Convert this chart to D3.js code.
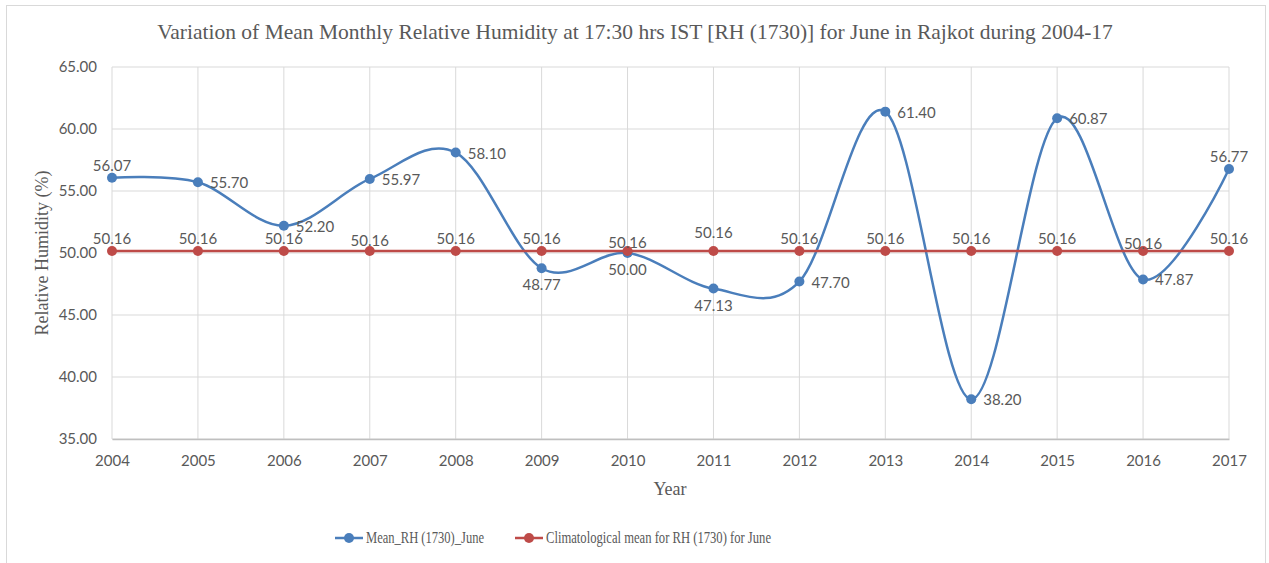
<!DOCTYPE html>
<html>
<head>
<meta charset="utf-8">
<script src="https://cdn.jsdelivr.net/npm/d3@7"></script>
<style>
  body { margin: 0; background: #fff; }
</style>
</head>
<body>
<script>
// values
const years = [2004, 2005, 2006, 2007, 2008, 2009, 2010, 2011, 2012, 2013, 2014, 2015, 2016, 2017];
const meanRH = [56.07, 55.70, 52.20, 55.97, 58.10, 48.77, 50.00, 47.13, 47.70, 61.40, 38.20, 60.87, 47.87, 56.77];
const climMean = [50.16, 50.16, 50.16, 50.16, 50.16, 50.16, 50.16, 50.16, 50.16, 50.16, 50.16, 50.16, 50.16, 50.16];
const yTicks = [35, 40, 45, 50, 55, 60, 65];
const seriesNames = ["Mean_RH (1730)_June", "Climatological mean for RH (1730) for June"];

// where each blue label sits relative to its point
const blueLabelPos = ["above", "right", "right", "right", "right", "below", "below", "below", "right", "right", "right", "right", "right", "above"];

const W = 1269, H = 563;
const margin = { left: 112, right: 40, top: 67, bottom: 124 };

const svg = d3.select("body").append("svg")
  .attr("width", W)
  .attr("height", H);

// chart border
svg.append("rect")
  .attr("x", 6.5).attr("y", 5.5)
  .attr("width", 1259).attr("height", 570)
  .attr("fill", "#fff")
  .attr("stroke", "#d9d9d9");

const x = d3.scalePoint()
  .domain(years)
  .range([margin.left, W - margin.right]);

const y = d3.scaleLinear()
  .domain([35, 65])
  .range([H - margin.bottom, margin.top]);

const grey = "#595959";
const tickFont = "Lato, 'Open Sans', sans-serif";
const serif = "'Liberation Serif', 'DejaVu Serif', serif";

// horizontal grid
svg.append("g")
  .selectAll("line")
  .data(yTicks)
  .join("line")
  .attr("x1", margin.left).attr("x2", W - margin.right)
  .attr("y1", d => y(d)).attr("y2", d => y(d))
  .attr("stroke", "#d9d9d9").attr("stroke-width", 1);

// vertical grid
svg.append("g")
  .selectAll("line")
  .data(years)
  .join("line")
  .attr("x1", d => x(d)).attr("x2", d => x(d))
  .attr("y1", y(65)).attr("y2", y(35))
  .attr("stroke", "#d9d9d9").attr("stroke-width", 1);

// bottom axis
const xAxis = svg.append("g")
  .attr("transform", `translate(0,${y(35)})`)
  .call(d3.axisBottom(x).tickSize(0).tickPadding(16));
xAxis.select(".domain").attr("stroke", "#bfbfbf").attr("stroke-width", 1.5);
xAxis.selectAll("text")
  .attr("font-family", tickFont).attr("font-size", 15).attr("fill", grey);

// left axis
const yAxis = svg.append("g")
  .attr("transform", `translate(${margin.left},0)`)
  .call(d3.axisLeft(y).tickValues(yTicks).tickSize(0).tickPadding(15).tickFormat(d3.format(".2f")));
yAxis.select(".domain").remove();
yAxis.selectAll("text")
  .attr("font-family", tickFont).attr("font-size", 15).attr("fill", grey);

const line = d3.line()
  .x((d, i) => x(years[i]))
  .y(d => y(d))
  .curve(d3.curveCardinal.tension(0));

const blue = "#4a7ebb", red = "#be4b48";

// blue series
svg.append("path")
  .datum(meanRH)
  .attr("d", line)
  .attr("fill", "none")
  .attr("stroke", blue).attr("stroke-width", 2.5);
svg.append("g")
  .selectAll("circle")
  .data(meanRH)
  .join("circle")
  .attr("cx", (d, i) => x(years[i]))
  .attr("cy", d => y(d))
  .attr("r", 5)
  .attr("fill", blue);

// red series
svg.append("path")
  .datum(climMean)
  .attr("d", d3.line().x((d, i) => x(years[i])).y(d => y(d)))
  .attr("fill", "none")
  .attr("stroke", red).attr("stroke-width", 2.5);
svg.append("g")
  .selectAll("circle")
  .data(climMean)
  .join("circle")
  .attr("cx", (d, i) => x(years[i]))
  .attr("cy", d => y(d))
  .attr("r", 5)
  .attr("fill", red);

// red labels (above)
const redShift = [0, 0, 0, 2, 0, 0, 4, -6, 0, 0, 0, 0, 5, 0];
svg.append("g")
  .selectAll("text")
  .data(climMean)
  .join("text")
  .attr("x", (d, i) => x(years[i]))
  .attr("y", (d, i) => y(d) - 7 + redShift[i])
  .attr("text-anchor", "middle")
  .attr("font-family", tickFont).attr("font-size", 15).attr("fill", grey)
  .text(d => d.toFixed(2));

// blue labels
svg.append("g")
  .selectAll("text")
  .data(meanRH)
  .join("text")
  .attr("x", (d, i) => {
    const p = blueLabelPos[i];
    return p === "right" ? x(years[i]) + 12 : x(years[i]);
  })
  .attr("y", (d, i) => {
    const p = blueLabelPos[i];
    if (p === "above") return y(d) - 7;
    if (p === "below") return y(d) + 22;
    return y(d) + 6;
  })
  .attr("text-anchor", (d, i) => blueLabelPos[i] === "right" ? "start" : "middle")
  .attr("font-family", tickFont).attr("font-size", 15).attr("fill", grey)
  .text(d => d.toFixed(2));

// title
svg.append("text")
  .attr("x", 635).attr("y", 39)
  .attr("text-anchor", "middle")
  .attr("font-family", serif).attr("font-size", 21.5).attr("fill", grey)
  .text("Variation of Mean Monthly Relative Humidity at 17:30 hrs IST [RH (1730)] for June in Rajkot during 2004-17");

// axis titles
svg.append("text")
  .attr("x", 670).attr("y", 495)
  .attr("text-anchor", "middle")
  .attr("font-family", serif).attr("font-size", 18).attr("fill", grey)
  .text("Year");

svg.append("text")
  .attr("transform", `translate(48,${y(50)}) rotate(-90)`)
  .attr("text-anchor", "middle")
  .attr("font-family", serif).attr("font-size", 18).attr("fill", grey)
  .text("Relative Humidity (%)");

// legend
const legendText = [118, 225];
const legend = svg.append("g")
  .selectAll("g")
  .data(seriesNames)
  .join("g")
  .attr("transform", (d, i) => `translate(${i === 0 ? 335 : 515},538)`);
legend.append("line")
  .attr("x1", 0).attr("x2", 28)
  .attr("stroke", (d, i) => i === 0 ? blue : red).attr("stroke-width", 2.5);
legend.append("circle")
  .attr("cx", 14).attr("r", 5)
  .attr("fill", (d, i) => i === 0 ? blue : red);
legend.append("text")
  .attr("x", 31).attr("y", 5)
  .attr("font-family", serif).attr("font-size", 16).attr("fill", grey)
  .attr("textLength", (d, i) => legendText[i])
  .attr("lengthAdjust", "spacingAndGlyphs")
  .text(d => d);
</script>
</body>
</html>
